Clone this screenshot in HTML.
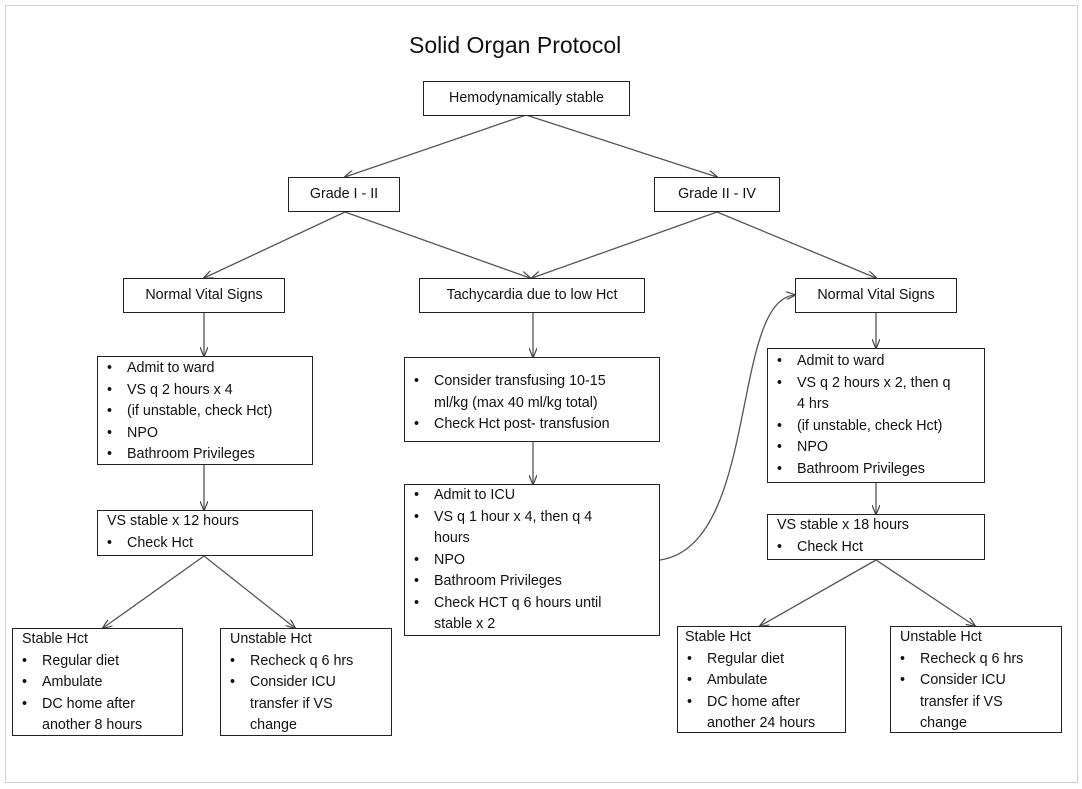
<!DOCTYPE html>
<html><head><meta charset="utf-8"><style>
body{margin:0;width:1082px;height:789px;background:#fff;position:relative;font-family:"Liberation Sans",sans-serif;color:#111;overflow:hidden}
.frame{position:absolute;left:5px;top:5px;width:1071px;height:776px;border:1px solid #d0d0d0}
.b{position:absolute;border:1.3px solid #222;box-sizing:border-box;background:#fff;font-size:14.3px;line-height:21.5px;white-space:nowrap}
.c{text-align:center;display:flex;align-items:center;justify-content:center}
ul{margin:0;padding:0;list-style:none}
li{position:relative;padding-left:29px}
li:before{content:"•";position:absolute;left:9px}
li.n{padding-left:0}
li.n:before{content:""}
.t{position:absolute;left:409px;top:32px;font-size:23px}
</style></head><body>
<div class="frame"></div>
<svg width="1082" height="789" style="position:absolute;left:0;top:0">
<defs><marker id="a" markerWidth="10" markerHeight="8" refX="9" refY="4" orient="auto" markerUnits="userSpaceOnUse"><path d="M0,0 L10,4 L0,8" fill="none" stroke="#444" stroke-width="1.2"/></marker></defs>
<g stroke="#555" stroke-width="1.3" fill="none" marker-end="url(#a)">
<line x1="526" y1="115" x2="345" y2="177"/>
<line x1="526" y1="115" x2="717" y2="177"/>
<line x1="345" y1="212" x2="204" y2="278"/>
<line x1="345" y1="212" x2="530" y2="278"/>
<line x1="717" y1="212" x2="532" y2="278"/>
<line x1="717" y1="212" x2="876" y2="278"/>
<line x1="204" y1="313" x2="204" y2="356"/>
<line x1="533" y1="313" x2="533" y2="357"/>
<line x1="876" y1="313" x2="876" y2="348"/>
<line x1="204" y1="465" x2="204" y2="510"/>
<line x1="533" y1="442" x2="533" y2="484"/>
<line x1="876" y1="483" x2="876" y2="514"/>
<line x1="204" y1="556" x2="103" y2="628"/>
<line x1="204" y1="556" x2="295" y2="628"/>
<line x1="876" y1="560" x2="760" y2="626"/>
<line x1="876" y1="560" x2="975" y2="626"/>
<path d="M660,560 C760,545 730,300 795,295"/>
</g></svg>
<div class="t">Solid Organ Protocol</div>
<div class="b c" style="left:423px;top:81px;width:207px;height:35px">Hemodynamically stable</div>
<div class="b c" style="left:288px;top:177px;width:112px;height:35px">Grade I - II</div>
<div class="b c" style="left:654px;top:177px;width:126px;height:35px">Grade II - IV</div>
<div class="b c" style="left:123px;top:278px;width:162px;height:35px">Normal Vital Signs</div>
<div class="b c" style="left:419px;top:278px;width:226px;height:35px">Tachycardia due to low Hct</div>
<div class="b c" style="left:795px;top:278px;width:162px;height:35px">Normal Vital Signs</div>
<div class="b" style="left:97px;top:356px;width:216px;height:109px;padding-top:1px"><ul><li>Admit to ward</li><li>VS q 2 hours x 4</li><li>(if unstable, check Hct)</li><li>NPO</li><li>Bathroom Privileges</li></ul></div>
<div class="b" style="left:404px;top:357px;width:256px;height:85px;padding-top:13px"><ul><li>Consider transfusing 10-15<br>ml/kg (max 40 ml/kg total)</li><li>Check Hct post- transfusion</li></ul></div>
<div class="b" style="left:767px;top:348px;width:218px;height:135px;padding-top:2px"><ul><li>Admit to ward</li><li>VS q 2 hours x 2, then q<br>4 hrs</li><li>(if unstable, check Hct)</li><li>NPO</li><li>Bathroom Privileges</li></ul></div>
<div class="b" style="left:97px;top:510px;width:216px;height:46px;padding-left:9px"><ul><li class="n">VS stable x 12 hours</li><li style="margin-left:-9px">Check Hct</li></ul></div>
<div class="b" style="left:404px;top:484px;width:256px;height:152px;padding-top:0px"><ul><li>Admit to ICU</li><li>VS q 1 hour x 4, then q 4<br>hours</li><li>NPO</li><li>Bathroom Privileges</li><li>Check HCT q 6 hours until<br>stable x 2</li></ul></div>
<div class="b" style="left:767px;top:514px;width:218px;height:46px;padding-left:9px"><ul><li class="n">VS stable x 18 hours</li><li style="margin-left:-9px">Check Hct</li></ul></div>
<div class="b" style="left:12px;top:628px;width:171px;height:108px;padding-left:9px"><ul><li class="n">Stable Hct</li><li style="margin-left:-9px">Regular diet</li><li style="margin-left:-9px">Ambulate</li><li style="margin-left:-9px">DC home after<br>another 8 hours</li></ul></div>
<div class="b" style="left:220px;top:628px;width:172px;height:108px;padding-left:9px"><ul><li class="n">Unstable Hct</li><li style="margin-left:-9px">Recheck q 6 hrs</li><li style="margin-left:-9px">Consider ICU<br>transfer if VS<br>change</li></ul></div>
<div class="b" style="left:677px;top:626px;width:169px;height:107px;padding-left:7px"><ul><li class="n">Stable Hct</li><li style="margin-left:-7px">Regular diet</li><li style="margin-left:-7px">Ambulate</li><li style="margin-left:-7px">DC home after<br>another 24 hours</li></ul></div>
<div class="b" style="left:890px;top:626px;width:172px;height:107px;padding-left:9px"><ul><li class="n">Unstable Hct</li><li style="margin-left:-9px">Recheck q 6 hrs</li><li style="margin-left:-9px">Consider ICU<br>transfer if VS<br>change</li></ul></div>
</body></html>
